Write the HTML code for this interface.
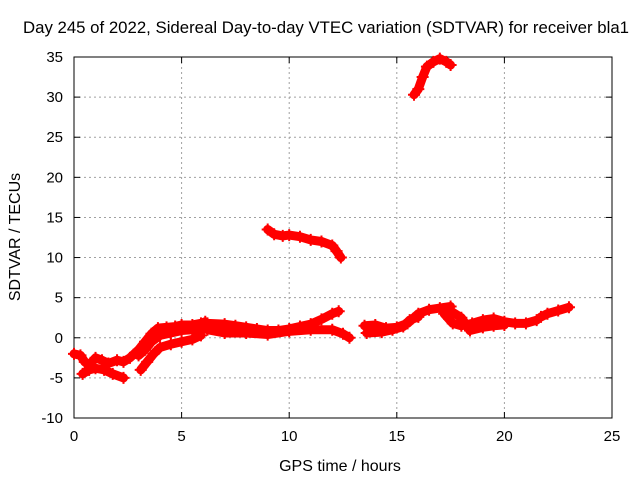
<!DOCTYPE html>
<html><head><meta charset="utf-8"><style>
body{margin:0;background:#fff}
svg{display:block;font-family:"Liberation Sans",sans-serif}
</style></head><body>
<svg id="chart" width="640" height="480" viewBox="0 0 640 480">
<rect width="640" height="480" fill="#fff"/>
<text x="326" y="33" font-size="16.5" text-anchor="middle" textLength="606" lengthAdjust="spacingAndGlyphs">Day 245 of 2022, Sidereal Day-to-day VTEC variation (SDTVAR) for receiver bla1</text>
<g id="grid"></g>
<g id="axes"></g>
<g id="series"></g>
<text x="340" y="471" font-size="16" text-anchor="middle">GPS time / hours</text>
<text x="20" y="237" font-size="16" text-anchor="middle" transform="rotate(-90 20 237)">SDTVAR / TECUs</text>
</svg>
<script>
const xTicks=[0,5,10,15,20,25];
const yTicks=[-10,-5,0,5,10,15,20,25,30,35];
const trackA=[[0,-2],[0.3,-2.2],[0.5,-3],[0.7,-3.4],[1.0,-2.5],[1.3,-2.8],[1.6,-3.2],[2.0,-2.8],[2.3,-3],[2.6,-2.5],[3.0,-1.5],[3.3,-0.5],[3.6,0.5],[3.9,1.2],[4.3,1.3],[4.7,1.4],[5.0,1.6],[5.5,1.6],[5.9,1.8],[6.1,2]];
const trackB=[[0.4,-4.5],[0.7,-4],[1.0,-3.8],[1.4,-4],[1.8,-4.5],[2.3,-5]];
const trackC=[[3.1,-4],[3.4,-3],[3.7,-2],[4.0,-1.2],[4.5,-0.8],[5.0,-0.5],[5.5,-0.2],[5.9,0.3]];
const trackC2=[[3.0,-2.2],[3.3,-1.5],[3.6,-0.5],[4.0,0.3],[4.5,0.6],[5.0,0.9],[5.5,1.0],[5.9,1.2]];
const trackD=[[6.2,1.8],[7,1.7],[7.5,1.5],[8,1.3],[8.5,1.1],[9,0.9],[9.5,0.9],[10,1.1],[10.5,1.4],[11,1.7],[11.5,2.3],[12,3],[12.3,3.3]];
const trackD2=[[6.2,1.0],[7,0.6],[8,0.6],[9,0.4],[10,0.8],[11,1.0],[12,1.0],[12.5,0.5],[12.8,0]];
const trackF=[[13.5,1.5],[14,1.6],[14.5,1.2],[15,1.3],[15.5,1.8],[16,3],[16.5,3.5],[17,3.7],[17.5,3.9]];
const trackF2=[[13.6,0.6],[14.3,0.7],[14.8,1.0],[15.3,1.4],[15.6,2.2],[16,2.6]];
const trackG=[[17.2,3],[17.6,1.8],[18,1.5],[18.5,1.8],[19,2.2],[19.5,2.4],[20,2.0],[20.5,1.8],[21,1.8],[21.5,2.2]];
const trackG2=[[17.4,3.5],[18.0,2.5],[18.4,0.9],[19,1.3],[19.5,1.5],[20,1.6]];
const trackH=[[21.7,2.6],[22,3],[22.5,3.4],[23,3.8]];
const trackI=[[9,13.5],[9.3,12.9],[9.7,12.7],[10,12.8],[10.5,12.6],[11,12.2],[11.5,12],[12,11.5],[12.2,10.8],[12.4,10]];
const trackJ=[[15.8,30.3],[16,31],[16.2,32.5],[16.4,33.8],[16.7,34.4],[17,34.8],[17.3,34.4],[17.5,34]];
const tracks=[trackA,trackB,trackC,trackC2,trackD,trackD2,trackF,trackF2,trackG,trackG2,trackH,trackI,trackJ];

const L=74,R=612,T=57,B=418;
const xs=v=>L+(v-0)/25*(R-L);
const ys=v=>B-(v+10)/45*(B-T);
const NS='http://www.w3.org/2000/svg';
function mk(tag,attrs,parent){const e=document.createElementNS(NS,tag);for(const k in attrs)e.setAttribute(k,attrs[k]);parent.appendChild(e);return e;}
const grid=document.getElementById('grid'),axes=document.getElementById('axes'),ser=document.getElementById('series');
xTicks.forEach(t=>{
  const x=xs(t);
  if(t>0&&t<25){const g=mk('line',{x1:x,x2:x,y1:T,y2:B,stroke:'#a0a0a0','stroke-dasharray':'2,3'},grid);
  
  }
  mk('line',{x1:x,x2:x,y1:B,y2:B-6,stroke:'#000'},axes);
  mk('line',{x1:x,x2:x,y1:T,y2:T+6,stroke:'#000'},axes);
  const tx=mk('text',{x:x,y:B+23,'font-size':15,'text-anchor':'middle'},axes);tx.textContent=t;
  
  
});
yTicks.forEach(t=>{
  const y=ys(t);
  if(t>-10&&t<35){const g=mk('line',{x1:L,x2:R,y1:y,y2:y,stroke:'#a0a0a0','stroke-dasharray':'2,3'},grid);
  
  }
  mk('line',{x1:L,x2:L+6,y1:y,y2:y,stroke:'#000'},axes);
  mk('line',{x1:R,x2:R-6,y1:y,y2:y,stroke:'#000'},axes);
  const tx=mk('text',{x:L-11,y:y+5,'font-size':15,'text-anchor':'end'},axes);tx.textContent=t;
  
  
});
mk('rect',{x:L,y:T,width:R-L,height:B-T,fill:'none',stroke:'#000'},axes);
tracks.forEach(tr=>{
  const p=mk('polyline',{points:tr.map(d=>xs(d[0])+','+ys(d[1])).join(' '),fill:'none',stroke:'#f00','stroke-width':9,'stroke-linejoin':'round','stroke-linecap':'round'},ser);
  
  
  tr.forEach(d=>{
    const x=xs(d[0]),y=ys(d[1]);
    const m=mk('path',{d:`M${x-6},${y}H${x+6}M${x},${y-6}V${y+6}`,stroke:'#f00','stroke-width':2},ser);
    
    
  });
});
</script>
</body></html>
